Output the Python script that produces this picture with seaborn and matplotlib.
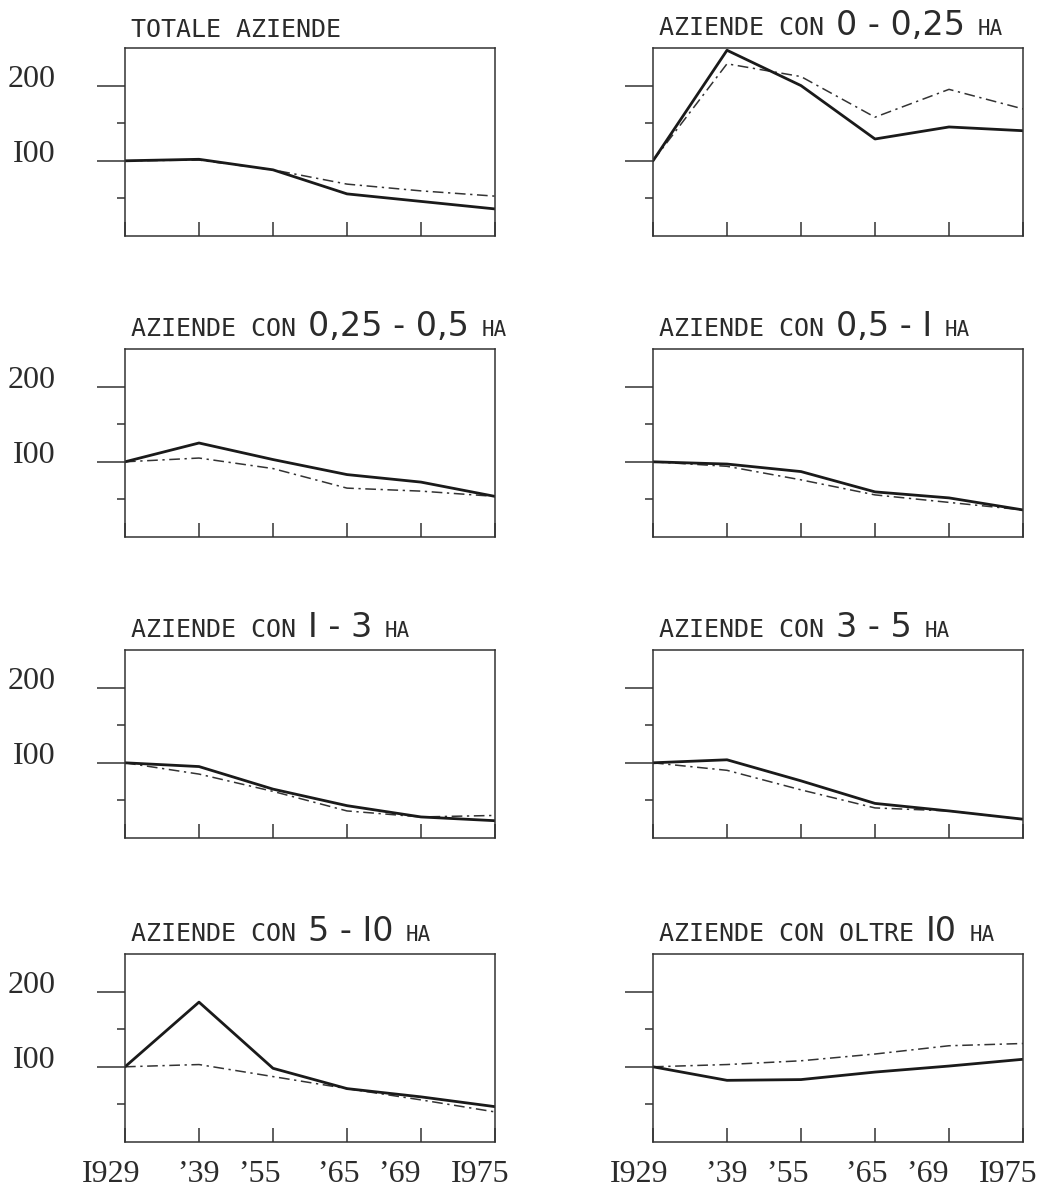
import numpy as np
import pandas as pd
import matplotlib
matplotlib.use("Agg")
import matplotlib.pyplot as plt
import seaborn as sns
from matplotlib.offsetbox import TextArea, HPacker, AnchoredOffsetbox
from matplotlib.transforms import ScaledTranslation
from matplotlib.ticker import FixedLocator

# ---------------- data ----------------
periods = ["I929", "’39", "’55", "’65", "’69", "I975"]
ytick_major = [100, 200]
ytick_major_labels = ["I00", "200"]
ytick_minor = [50, 150]

title_lead = ["TOTALE AZIENDE", "AZIENDE CON", "AZIENDE CON", "AZIENDE CON",
              "AZIENDE CON", "AZIENDE CON", "AZIENDE CON", "AZIENDE CON OLTRE"]
title_range = ["", "0 - 0,25", "0,25 - 0,5", "0,5 - I", "I - 3", "3 - 5", "5 - I0", "I0"]
title_unit = ["", "HA", "HA", "HA", "HA", "HA", "HA", "HA"]

solid_totale = [100, 102, 88, 56, 46, 36]
dash_totale = [100, 101, 88, 69, 60, 53]
solid_0_025 = [100, 247, 200, 129, 145, 140]
dash_0_025 = [100, 229, 212, 158, 195, 169]
solid_025_05 = [100, 125, 103, 83, 73, 54]
dash_025_05 = [100, 105, 91, 65, 61, 54]
solid_05_1 = [100, 97, 87, 60, 52, 36]
dash_05_1 = [100, 94, 76, 56, 46, 36]
solid_1_3 = [100, 95, 65, 43, 28, 23]
dash_1_3 = [100, 85, 62, 36, 28, 30]
solid_3_5 = [100, 104, 76, 46, 36, 25]
dash_3_5 = [100, 90, 64, 40, 36, 25]
solid_5_10 = [100, 186, 98, 71, 60, 47]
dash_5_10 = [100, 103, 87, 71, 56, 40]
solid_oltre10 = [100, 82, 83, 93, 101, 110]
dash_oltre10 = [100, 103, 108, 117, 128, 131]

solid_series = [solid_totale, solid_0_025, solid_025_05, solid_05_1,
                solid_1_3, solid_3_5, solid_5_10, solid_oltre10]
dash_series = [dash_totale, dash_0_025, dash_025_05, dash_05_1,
               dash_1_3, dash_3_5, dash_5_10, dash_oltre10]

# ---------------- style ----------------
sns.set_style("white")
plt.rcParams["font.family"] = ["DejaVu Sans"]
INK = "#1a1a1a"
TXT = "#2b2b2b"
W, H = 1055, 1191
fig = plt.figure(figsize=(W / 100, H / 100), dpi=100)
fig.patch.set_facecolor("white")

col_left = [125 / W, 653 / W]
ax_w = 370 / W
ax_h = 188 / H
row_bottom = [(H - 236) / H, (H - 537) / H, (H - 838) / H, (H - 1142) / H]
xlabel_shift_px = [-14, 0, -13, -8, -21, -15]

serif = ["Liberation Serif", "DejaVu Serif"]
mono = ["DejaVu Sans Mono"]

for i in range(8):
    r, c = divmod(i, 2)
    ax = fig.add_axes([col_left[c], row_bottom[r], ax_w, ax_h])
    ax.set_facecolor("white")
    df = pd.DataFrame({"periodo": periods, "solid": solid_series[i], "dash": dash_series[i]})
    sns.lineplot(data=df, x="periodo", y="dash", ax=ax, color="#333333", lw=1.1,
                 linestyle=(0, (7, 3, 1.5, 3)), sort=False)
    sns.lineplot(data=df, x="periodo", y="solid", ax=ax, color=INK, lw=2.0, sort=False)
    ax.set_xlim(0, len(periods) - 1)
    ax.set_ylim(0, 250)
    ax.set_xlabel("")
    ax.set_ylabel("")

    for s in ax.spines.values():
        s.set_visible(True)
        s.set_linewidth(1.1)
        s.set_color("#333333")

    ax.yaxis.set_major_locator(FixedLocator(ytick_major))
    ax.yaxis.set_minor_locator(FixedLocator(ytick_minor))
    ax.set_yticklabels(ytick_major_labels, family=serif, color=TXT, fontsize=23)
    ax.tick_params(axis="y", which="major", direction="out", length=20, width=1.1,
                   color="#333333", pad=30, left=True, labelleft=(c == 0))
    ax.tick_params(axis="y", which="minor", direction="out", length=6, width=1.1,
                   color="#333333", left=True)

    ax.set_xticks(range(len(periods)))
    ax.set_xticklabels(periods, family=serif, color=TXT, fontsize=23)
    ax.tick_params(axis="x", which="major", direction="in", length=10, width=1.1,
                   color="#333333", pad=13, bottom=True, labelbottom=(r == 3))

    for lab in ax.get_yticklabels():
        lab.set_transform(lab.get_transform() + ScaledTranslation(0, 10 / 100, fig.dpi_scale_trans))
    for lab, dx in zip(ax.get_xticklabels(), xlabel_shift_px):
        lab.set_transform(lab.get_transform() + ScaledTranslation(dx / 100, 0, fig.dpi_scale_trans))

    # title made of pieces of different sizes
    parts = [TextArea(title_lead[i], textprops=dict(family=mono, fontsize=18, color=TXT))]
    if title_range[i]:
        parts.append(TextArea(title_range[i], textprops=dict(family=["DejaVu Sans"], fontsize=24, color=TXT)))
    if title_unit[i]:
        parts.append(TextArea(title_unit[i], textprops=dict(family=mono, fontsize=15, color=TXT)))
    box = HPacker(children=parts, align="baseline", pad=0, sep=9)
    anchored = AnchoredOffsetbox(loc="lower left", child=box, pad=0, borderpad=0.4,
                                 frameon=False, bbox_to_anchor=(0, 1),
                                 bbox_transform=ax.transAxes, prop=dict(size=10))
    ax.add_artist(anchored)

fig.savefig("out.png", dpi=100, facecolor="white")
